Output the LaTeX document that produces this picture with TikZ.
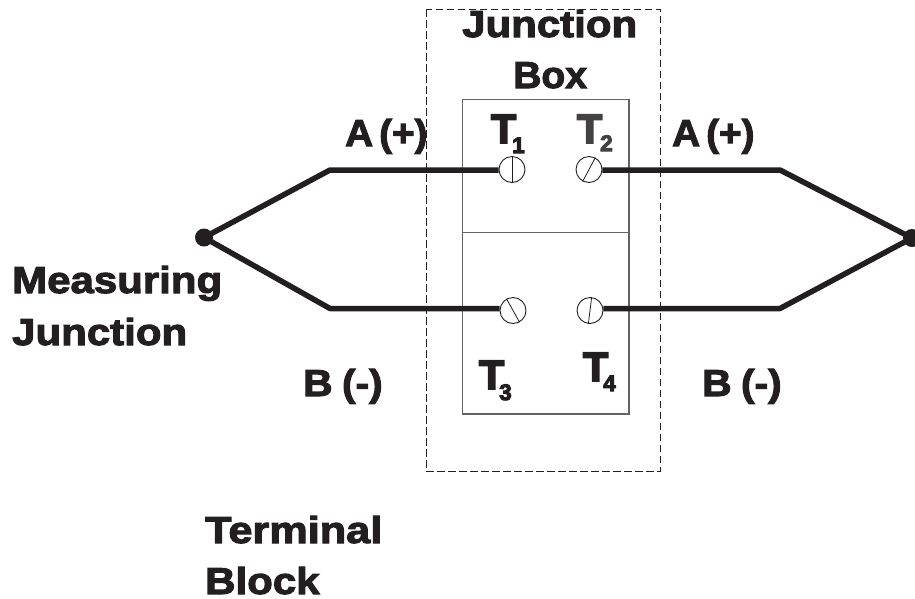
\documentclass[tikz,border=0pt]{standalone}
\usepackage{graphicx}
\usepackage{fontspec}
\setmainfont{Liberation Sans}
\newfontfamily\heavy[FakeStretch=1.12,FakeBold=2.8]{Liberation Sans Bold}
\newfontfamily\heavyT[FakeStretch=1.0,FakeBold=4.5]{Liberation Sans Bold}
\definecolor{ink}{HTML}{231F20}
\newcommand{\xs}[2]{\scalebox{#1}[1]{#2}}
\tikzset{
  lab/.style={anchor=base west,inner sep=0,text=ink,font=\heavy\fontsize{37.5}{37.5}\selectfont},
  tlab/.style={anchor=base west,inner sep=0,text=ink,font=\heavyT\fontsize{41}{41}\selectfont},
  sublab/.style={anchor=base west,inner sep=0,text=ink,font=\heavyT\fontsize{22.5}{22.5}\selectfont},
  wire/.style={line width=5.5pt,draw=ink,line join=round},
  dot/.style={circle,fill=ink,inner sep=0,minimum size=18pt},
  screw/.style={circle,draw=ink,line width=0.9pt,inner sep=0,minimum size=26pt,fill=white},
  slot/.style={draw=ink,line width=0.8pt},
  block/.style={draw=ink!70,line width=1.3pt},
  jbox/.style={draw=ink,line width=1pt,dash pattern=on 7.5pt off 3.5pt}
}
\begin{document}
\begin{tikzpicture}[x=1pt,y=-1pt]
\useasboundingbox (0,0) rectangle (915,598);
\clip (0,0) rectangle (915,598);
\coordinate (o1) at (426,9);
\coordinate (o2) at (660,471);
\coordinate (b1) at (462.5,99.5);
\coordinate (b2) at (629,414);
\coordinate (m1) at (462.5,232.5);
\coordinate (m2) at (629,232.5);
\draw[jbox] (o1) rectangle (o2);
\draw[block] (b1) rectangle (b2);
\draw[block] (m1) -- (m2);
\node[screw] (s1) at (512,169.5) {};
\node[screw] (s2) at (589,169.5) {};
\node[screw] (s3) at (513,310.5) {};
\node[screw] (s4) at (590,310.5) {};
\draw[slot] (s1.90) -- (s1.270);
\draw[slot] (s2.62) -- (s2.242);
\draw[slot] (s3.119) -- (s3.299);
\draw[slot] (s4.83) -- (s4.263);
\node[dot] (mj) at (204,237.5) {};
\node[dot] (rj) at (912,238) {};
\coordinate (c1) at (330,170);
\coordinate (c2) at (330,308.5);
\coordinate (c3) at (780,170);
\coordinate (c4) at (780,308.5);
\draw[wire] (mj.center) -- (c1) -- (s1.west |- c1);
\draw[wire] (mj.center) -- (c2) -- (s3.west |- c2);
\draw[wire] (s2.east |- c3) -- (c3) -- (rj.center);
\draw[wire] (s4.east |- c4) -- (c4) -- (rj.center);
\node[lab] (jb1) at (462,37) {Junction};
\node[lab] (jb2) at (513,88) {\xs{0.93}{Box}};
\node[lab] (aa1) at (345,146) {\xs{0.92}{A\hspace{-5pt} (+)}};
\node[lab] (aa2) at (672,146) {\xs{0.92}{A\hspace{-5pt} (+)}};
\node[lab] (bb1) at (303,396) {\xs{0.97}{B\hspace{-2pt} (-)}};
\node[lab] (bb2) at (702,396) {\xs{0.97}{B\hspace{-2pt} (-)}};
\node[lab] (mm1) at (12,293) {Measuring};
\node[lab] (mm2) at (12,345) {Junction};
\node[lab] (tt1) at (205,543) {\xs{1.03}{Terminal}};
\node[lab] (tt2) at (205,594) {Block};
\node[tlab] (t1) at (491,143) {T};
\node[sublab] (n1) at (512,153) {1};
\node[tlab,text=ink!85] (t2) at (577,143) {T};
\node[sublab,text=ink!85] (n2) at (600,151) {2};
\node[tlab] (t3) at (479,389) {T};
\node[sublab] (n3) at (499,400) {3};
\node[tlab] (t4) at (583,381) {T};
\node[sublab] (n4) at (603,391) {4};
\end{tikzpicture}
\end{document}
